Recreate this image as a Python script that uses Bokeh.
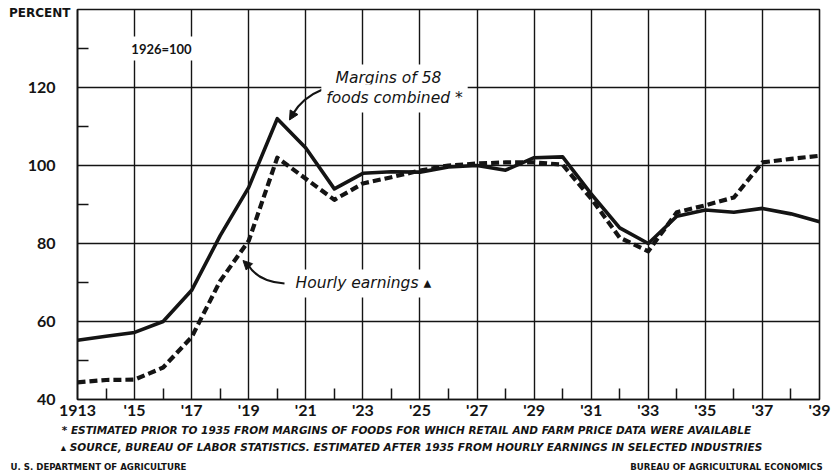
from bokeh.plotting import figure
from bokeh.models import Range1d, FixedTicker, Label, Arrow, NormalHead, LinearAxis
from bokeh.embed import file_html
from bokeh.resources import INLINE

# ---- data ----
years = list(range(1913, 1940))
margins = [55.2, 56.2, 57.2, 60.0, 68.0, 82.0, 94.4, 112.0, 104.5, 94.0,
           98.0, 98.4, 98.3, 99.6, 100.0, 98.8, 102.0, 102.2, 92.7, 84.0,
           80.0, 87.0, 88.6, 88.0, 89.0, 87.6, 85.6]
earnings = [44.4, 45.0, 45.1, 48.2, 56.0, 70.4, 80.7, 102.0, 96.6, 91.2,
            95.4, 97.0, 98.7, 100.0, 100.5, 100.8, 100.8, 100.2, 91.5, 81.5,
            78.0, 88.0, 89.8, 91.8, 100.8, 101.7, 102.5]
x_major = list(range(1913, 1940, 2))
x_minor = list(range(1914, 1939, 2))
x_labels = ["1913"] + ["'%02d" % (y % 100) for y in x_major[1:]]
y_major = [40, 60, 80, 100, 120, 140]
y_minor = [50, 70, 90, 110, 130]
y_labels = ["40", "60", "80", "100", "120", ""]

note_1 = "* ESTIMATED PRIOR TO 1935 FROM MARGINS OF FOODS FOR WHICH RETAIL AND FARM PRICE DATA WERE AVAILABLE"
note_2 = "\u25b4 SOURCE, BUREAU OF LABOR STATISTICS. ESTIMATED AFTER 1935 FROM HOURLY EARNINGS IN SELECTED INDUSTRIES"
credit_left = "U. S. DEPARTMENT OF AGRICULTURE"
credit_right = "BUREAU OF AGRICULTURAL ECONOMICS"

INK = "#141414"

W, H = 831, 474
p = figure(width=W, height=H, output_backend="svg", toolbar_location=None,
           x_range=Range1d(1913, 1939), y_range=Range1d(40, 140),
           min_border_left=77, min_border_right=12, min_border_top=9,
           min_border_bottom=75, background_fill_color="white",
           border_fill_color="white")
p.outline_line_color = INK
p.outline_line_width = 1.6

# page-pixel -> data helpers (frame top-left at page (77, 9))
FX0, FY0 = 77.0, 9.0
SX, SY = 742.0 / 26.0, 390.0 / 100.0
def X(px):
    return round(1913 + (px - FX0) / SX, 4)
def Y(py):
    return round(140 - (py - FY0) / SY, 4)

# axes
xa = p.xaxis[0]
xa.ticker = FixedTicker(ticks=x_major, minor_ticks=x_minor)
xa.major_label_overrides = {t: l for t, l in zip(x_major, x_labels)}
ya = p.yaxis[0]
ya.ticker = FixedTicker(ticks=y_major, minor_ticks=y_minor)
ya.major_label_overrides = {t: l for t, l in zip(y_major, y_labels)}
for ax in (xa, ya):
    ax.axis_line_color = INK
    ax.axis_line_width = 1.6
    ax.major_tick_in = 0
    ax.major_tick_out = 0
    ax.minor_tick_in = 11
    ax.minor_tick_out = 0
    ax.minor_tick_line_color = INK
    ax.minor_tick_line_width = 1.5
    ax.major_label_text_font = "Lato"
    ax.major_label_text_font_size = "16px"
    ax.major_label_text_font_style = "bold"
    ax.major_label_text_color = INK
xa.major_label_standoff = 0
ya.major_label_standoff = 22

def text_axis(side, ticks, labels, size, style, standoff, font="DejaVu Sans"):
    ax = LinearAxis(ticker=FixedTicker(ticks=ticks, minor_ticks=[]),
                    major_label_overrides=dict(zip(ticks, labels)),
                    axis_line_alpha=0, major_tick_in=0, major_tick_out=0,
                    minor_tick_in=0, minor_tick_out=0,
                    major_tick_line_alpha=0, minor_tick_line_alpha=0,
                    major_label_standoff=standoff,
                    major_label_text_font=font,
                    major_label_text_font_size=size,
                    major_label_text_font_style=style,
                    major_label_text_color=INK)
    p.add_layout(ax, side)
    return ax

# "PERCENT" on an outer left axis, pulled back towards the frame
text_axis("left", [139], ["PERCENT"], "12px", "bold", -46)
# footnotes and credits as label rows below
text_axis("below", [X(406)], [note_1], "10.5px", "bold italic", 2)
text_axis("below", [X(411)], [note_2], "10.5px", "bold italic", 2)
text_axis("below", [X(98), X(726)], [credit_left, credit_right], "8.6px", "bold", 6)

for g in (p.xgrid[0], p.ygrid[0]):
    g.grid_line_color = INK
    g.grid_line_width = 1.4

# data lines
p.line(years, margins, line_color=INK, line_width=3.6, line_join="round")
p.line(years, earnings, line_color=INK, line_width=4.2, line_dash="8 4",
       line_join="round")

# arrows
p.quadratic(x0=[X(322)], y0=[Y(89)], x1=[X(292)], y1=[Y(114)],
            cx=[X(302)], cy=[Y(97)], line_color=INK, line_width=2.2)
p.add_layout(Arrow(end=NormalHead(size=9, fill_color=INK, line_color=INK),
                   x_start=X(294), y_start=Y(111), x_end=X(289), y_end=Y(119.5),
                   line_alpha=0))
p.quadratic(x0=[X(284)], y0=[Y(283)], x1=[X(248)], y1=[Y(265)],
            cx=[X(258)], cy=[Y(281)], line_color=INK, line_width=2.2)
p.add_layout(Arrow(end=NormalHead(size=9, fill_color=INK, line_color=INK),
                   x_start=X(250), y_start=Y(267.5), x_end=X(242.5), y_end=Y(260),
                   line_alpha=0))

def lab(txt, px, py, size, font="DejaVu Sans", style="normal", align="left",
        bg=None, pad=0):
    kw = dict(x=X(px), y=Y(py), text=txt, text_font=font,
              text_font_size=size, text_font_style=style, text_color=INK,
              text_align=align, text_baseline="middle")
    if bg:
        kw.update(background_fill_color=bg, padding=pad)
    p.add_layout(Label(**kw))

lab("1926=100", 161, 48, "13px", font="Lato", style="bold", align="center",
    bg="white", pad=4)
lab("Margins of 58", 388, 78, "15.5px", style="italic", align="center",
    bg="white", pad=5)
lab("foods combined *", 394, 98, "15.5px", style="italic", align="center",
    bg="white", pad=5)
lab("Hourly earnings \u25b4", 290, 283, "15.5px", style="italic", align="left",
    bg="white", pad=5)

open("out.html", "w").write(file_html(p, INLINE))
